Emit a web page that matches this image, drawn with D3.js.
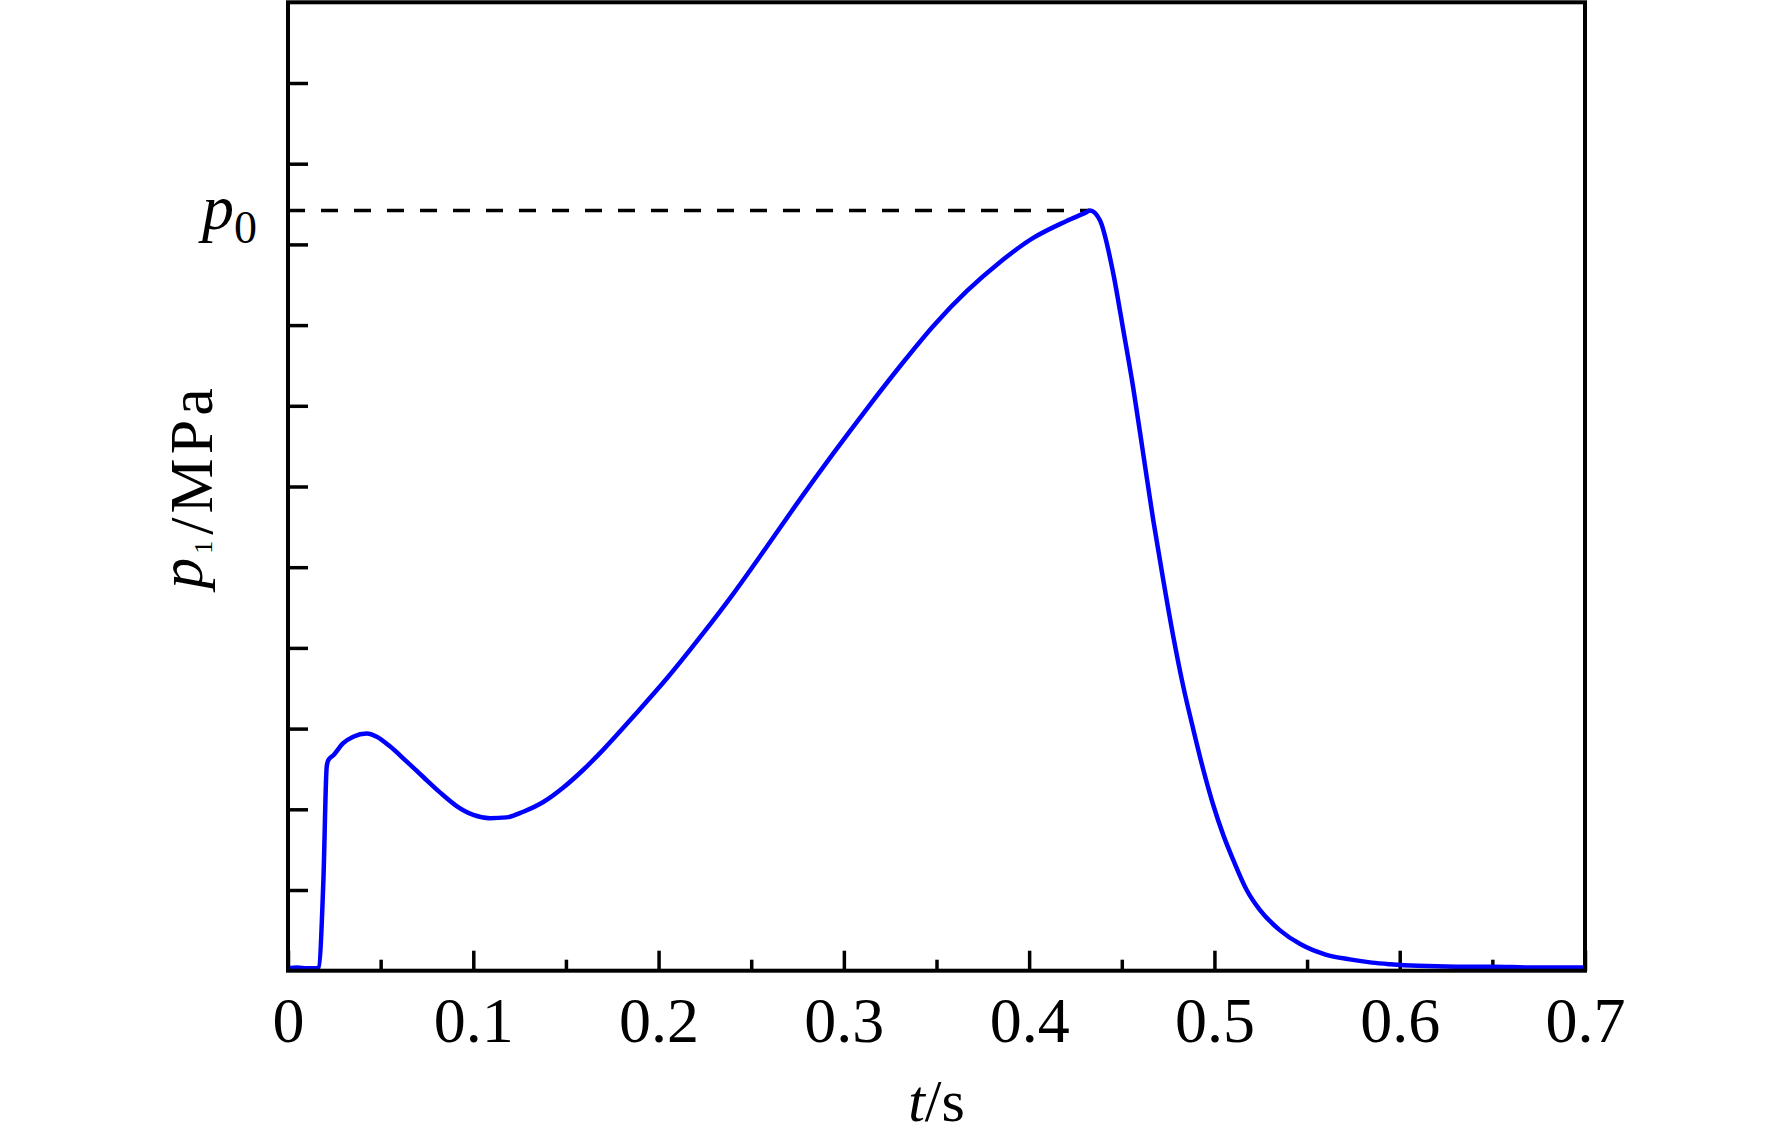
<!DOCTYPE html>
<html>
<head>
<meta charset="utf-8">
<script src="https://cdn.jsdelivr.net/npm/d3@7"></script>
<style>
  html, body { margin: 0; padding: 0; background: #fff; }
  #container text { font-family: 'Liberation Serif', 'Times New Roman', serif; fill: #000; }
</style>
</head>
<body>
<div id="container"></div>
<script>
// time (s) and pressure p1 (in y tick units)
const tValues = [
  0, 0.005, 0.010, 0.015, 0.0165, 0.0191, 0.0209, 0.0218, 0.0245, 0.0298,
  0.0352, 0.0425, 0.0479, 0.0550, 0.0641, 0.0730, 0.0820, 0.0910, 0.1000, 0.1090,
  0.1180, 0.1270, 0.1378, 0.1486, 0.1594, 0.1702, 0.1864, 0.2044, 0.2223, 0.2403,
  0.2583, 0.2763, 0.2943, 0.3123, 0.3303, 0.3483, 0.3663, 0.3842, 0.4022, 0.4202,
  0.4310, 0.4328, 0.4382, 0.4454, 0.4508, 0.4562, 0.4616, 0.4670, 0.4724, 0.4778,
  0.4832, 0.4886, 0.4940, 0.4994, 0.5048, 0.5102, 0.5174, 0.5246, 0.5354, 0.5463,
  0.5600, 0.5730, 0.5850, 0.5950, 0.6100, 0.6300, 0.6500, 0.6700, 0.7000
]
const pValues = [
  0.03, 0.04, 0.03, 0.03, 0.04, 1.12, 2.53, 2.61, 2.67, 2.82,
  2.90, 2.94, 2.90, 2.78, 2.59, 2.40, 2.21, 2.04, 1.93, 1.89,
  1.90, 1.97, 2.09, 2.27, 2.49, 2.74, 3.15, 3.62, 4.13, 4.67,
  5.25, 5.84, 6.41, 6.96, 7.49, 7.99, 8.42, 8.78, 9.08, 9.29,
  9.40, 9.42, 9.30, 8.64, 7.94, 7.22, 6.40, 5.58, 4.84, 4.14,
  3.52, 2.99, 2.49, 2.05, 1.68, 1.37, 1.00, 0.75, 0.50, 0.33,
  0.20, 0.14, 0.10, 0.08, 0.06, 0.05, 0.05, 0.04, 0.04
]
const p0Value = 9.42
const p0Time = 0.4328

const xMajorTicks = [0, 0.1, 0.2, 0.3, 0.4, 0.5, 0.6, 0.7]
const xTickLabels = ['0', '0.1', '0.2', '0.3', '0.4', '0.5', '0.6', '0.7']
const xMinorTicks = [0.05, 0.15, 0.25, 0.35, 0.45, 0.55, 0.65]
const yTicks = [1, 2, 3, 4, 5, 6, 7, 8, 9, 10, 11]

function drawChart () {
  const width = 1772
  const height = 1141
  const plot = { left: 288, right: 1585, top: 2.3, bottom: 970.7 }
  const data = tValues.map((t, i) => ({ t: t, p: pValues[i] }))

  const svg = d3.select('#container')
    .append('svg')
    .attr('width', width)
    .attr('height', height)

  const xScale = d3.scaleLinear()
    .domain([0, 0.7])
    .range([plot.left, plot.right])
  const yScale = d3.scaleLinear()
    .domain([0, 12])
    .range([plot.bottom, plot.top])

  // inward ticks on bottom and left
  const xMajor = svg.append('g')
    .attr('transform', `translate(0,${plot.bottom})`)
    .call(d3.axisBottom(xScale)
      .tickValues(xMajorTicks)
      .tickSize(-20)
      .tickPadding(26)
      .tickFormat((d, i) => xTickLabels[i]))
  xMajor.select('.domain').remove()
  xMajor.selectAll('line').attr('stroke', '#000').attr('stroke-width', 3.5)
  xMajor.selectAll('text').attr('font-size', 64)

  const xMinor = svg.append('g')
    .attr('transform', `translate(0,${plot.bottom})`)
    .call(d3.axisBottom(xScale)
      .tickValues(xMinorTicks)
      .tickSize(-11)
      .tickFormat(''))
  xMinor.select('.domain').remove()
  xMinor.selectAll('line').attr('stroke', '#000').attr('stroke-width', 3.5)

  const yAxis = svg.append('g')
    .attr('transform', `translate(${plot.left},0)`)
    .call(d3.axisLeft(yScale)
      .tickValues(yTicks)
      .tickSize(-20)
      .tickFormat(''))
  yAxis.select('.domain').remove()
  yAxis.selectAll('line').attr('stroke', '#000').attr('stroke-width', 3.5)

  // p0 reference line
  svg.append('line')
    .attr('x1', xScale(0))
    .attr('x2', xScale(p0Time))
    .attr('y1', yScale(p0Value))
    .attr('y2', yScale(p0Value))
    .attr('stroke', '#000')
    .attr('stroke-width', 3.5)
    .attr('stroke-dasharray', '17,16')

  const line = d3.line()
    .x(d => xScale(d.t))
    .y(d => yScale(d.p))
    .curve(d3.curveMonotoneX)
  svg.append('path')
    .datum(data)
    .attr('fill', 'none')
    .attr('stroke', '#0000ff')
    .attr('stroke-width', 4.5)
    .attr('stroke-linejoin', 'round')
    .attr('d', line)

  // frame
  svg.append('rect')
    .attr('x', plot.left)
    .attr('y', plot.top)
    .attr('width', plot.right - plot.left)
    .attr('height', plot.bottom - plot.top)
    .attr('fill', 'none')
    .attr('stroke', '#000')
    .attr('stroke-width', 4)

  // p0 label
  const p0Label = svg.append('text')
    .attr('x', 202)
    .attr('y', yScale(p0Value) + 18)
    .attr('font-size', 64)
  p0Label.append('tspan').attr('font-style', 'italic').text('p')
  p0Label.append('tspan').attr('font-size', 46).attr('dy', 14).text('0')

  // axis titles
  const yTitle = svg.append('text')
    .attr('transform', `translate(212,${(plot.top + plot.bottom) / 2}) rotate(-90)`)
    .attr('text-anchor', 'middle')
    .attr('font-size', 62)
    .attr('letter-spacing', 4)
  yTitle.append('tspan').attr('font-style', 'italic').attr('dy', -10).text('p')
  yTitle.append('tspan').attr('font-size', 26).attr('dy', 10).text('1')
  yTitle.append('tspan').attr('dx', 2).text('/MPa')

  const xTitle = svg.append('text')
    .attr('x', (plot.left + plot.right) / 2)
    .attr('y', 1121)
    .attr('text-anchor', 'middle')
    .attr('font-size', 60)
  xTitle.append('tspan').attr('font-style', 'italic').text('t')
  xTitle.append('tspan').text('/s')
}

drawChart()
</script>
</body>
</html>
